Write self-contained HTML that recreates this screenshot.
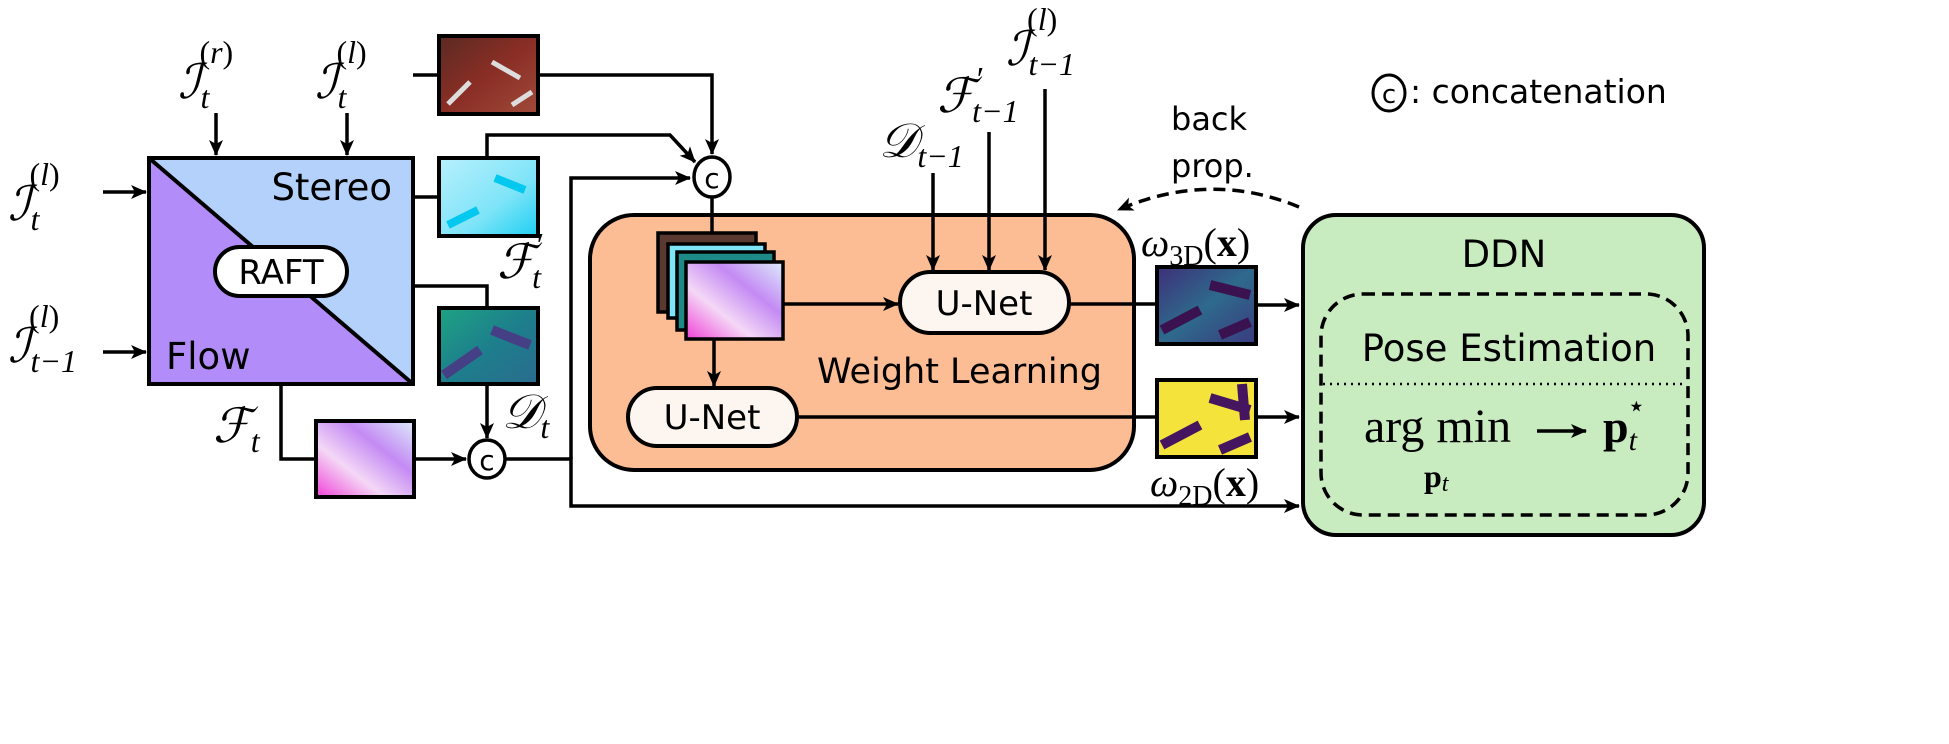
<!DOCTYPE html>
<html><head><meta charset="utf-8"><style>
html,body{margin:0;padding:0;background:#fff}
svg{display:block}
.s{font-family:"DejaVu Sans","Liberation Sans",sans-serif}
.m{font-family:"Liberation Serif","DejaVu Serif",serif;font-style:italic}
.r{font-family:"Liberation Serif","DejaVu Serif",serif}
</style></head><body>
<svg width="1949" height="744" viewBox="0 0 1949 744" xmlns="http://www.w3.org/2000/svg">
<defs>
<marker id="a" viewBox="0 0 16 14" refX="15" refY="7" markerWidth="16" markerHeight="14" markerUnits="userSpaceOnUse" orient="auto"><path d="M0,0 L16,7 L0,14 L4,7 Z" fill="#000"/></marker>
<linearGradient id="gRGB" x1="0" y1="0" x2="1" y2="1"><stop offset="0" stop-color="#5a2a22"/><stop offset="0.5" stop-color="#8a2e25"/><stop offset="1" stop-color="#a04a3a"/></linearGradient>
<linearGradient id="gCy" x1="0" y1="0" x2="1" y2="1"><stop offset="0" stop-color="#b8f0fd"/><stop offset="0.6" stop-color="#7ee4f8"/><stop offset="1" stop-color="#1ccff2"/></linearGradient>
<linearGradient id="gD" x1="0" y1="0" x2="1" y2="1"><stop offset="0" stop-color="#1ea383"/><stop offset="0.5" stop-color="#1d7f8c"/><stop offset="1" stop-color="#2a6b8e"/></linearGradient>
<linearGradient id="gF" x1="0" y1="1" x2="1" y2="0"><stop offset="0" stop-color="#f040d8"/><stop offset="0.35" stop-color="#f4d8f6"/><stop offset="0.65" stop-color="#c48af4"/><stop offset="1" stop-color="#dcecfb"/></linearGradient>
<linearGradient id="g3" x1="0" y1="0" x2="1" y2="1"><stop offset="0" stop-color="#3e2f78"/><stop offset="0.5" stop-color="#2e6a8c"/><stop offset="1" stop-color="#3a3a80"/></linearGradient>
</defs>

<polygon points="149,158 413,158 413,384" fill="#b3d1fb"/>
<polygon points="149,158 413,384 149,384" fill="#b28dfa"/>
<line x1="149" y1="158" x2="413" y2="384" stroke="#000" stroke-width="4"/>
<rect x="149" y="158" width="264" height="226" fill="none" stroke="#000" stroke-width="4"/>
<text x="392" y="200" class="s" font-size="37" text-anchor="end">Stereo</text>
<text x="166" y="369" class="s" font-size="37">Flow</text>
<rect x="215" y="247" width="132" height="49" rx="24.5" fill="#fff" stroke="#000" stroke-width="4"/>
<text x="281" y="284" class="s" font-size="34" text-anchor="middle">RAFT</text>

<text x="178" y="98" class="m" font-size="48">ℐ<tspan font-size="32" dy="10">t</tspan><tspan font-size="32" dx="-10" dy="-45" class="r" font-style="normal">(<tspan class="m">r</tspan>)</tspan></text>
<text x="315" y="98" class="m" font-size="48">ℐ<tspan font-size="32" dy="10">t</tspan><tspan font-size="32" dx="-10" dy="-45" class="r" font-style="normal">(<tspan class="m">l</tspan>)</tspan></text>
<text x="8" y="220" class="m" font-size="48">ℐ<tspan font-size="32" dy="10">t</tspan><tspan font-size="32" dx="-10" dy="-45" class="r" font-style="normal">(<tspan class="m">l</tspan>)</tspan></text>
<text x="8" y="362" class="m" font-size="48">ℐ<tspan font-size="32" dy="10">t−1</tspan><tspan font-size="32" dx="-48" dy="-45" class="r" font-style="normal">(<tspan class="m">l</tspan>)</tspan></text>
<line x1="216" y1="113" x2="216" y2="155" stroke="#000" stroke-width="3.5" marker-end="url(#a)"/>
<line x1="347" y1="113" x2="347" y2="155" stroke="#000" stroke-width="3.5" marker-end="url(#a)"/>
<line x1="103" y1="192" x2="146" y2="192" stroke="#000" stroke-width="3.5" marker-end="url(#a)"/>
<line x1="103" y1="352" x2="146" y2="352" stroke="#000" stroke-width="3.5" marker-end="url(#a)"/>

<rect x="439" y="36" width="99" height="78" fill="url(#gRGB)" stroke="#000" stroke-width="4"/>
<path d="M448,104 L470,82 M492,62 L520,78 M512,105 L532,92" stroke="#ddd" stroke-width="5"/>
<rect x="439" y="158" width="99" height="78" fill="url(#gCy)" stroke="#000" stroke-width="4"/>
<path d="M448,225 L478,210 M495,178 L525,190" stroke="#00c8ee" stroke-width="8"/>
<rect x="439" y="308" width="99" height="76" fill="url(#gD)" stroke="#000" stroke-width="4"/>
<path d="M444,375 L480,350 M492,330 L530,345" stroke="#453f86" stroke-width="10"/>
<rect x="316" y="421" width="98" height="76" fill="url(#gF)" stroke="#000" stroke-width="4"/>

<polyline points="413,75 439,75" fill="none" stroke="#000" stroke-width="3.5"/>
<polyline points="538,75 712,75 712,154" fill="none" stroke="#000" stroke-width="3.5" marker-end="url(#a)"/>
<polyline points="413,197 439,197" fill="none" stroke="#000" stroke-width="3.5"/>
<polyline points="487,158 487,135 670,135 695,162" fill="none" stroke="#000" stroke-width="3.5" marker-end="url(#a)"/>
<polyline points="413,286 487,286 487,308" fill="none" stroke="#000" stroke-width="3.5"/>
<polyline points="571,459 571,178 690,178" fill="none" stroke="#000" stroke-width="3.5" marker-end="url(#a)"/>
<polyline points="281,384 281,459 316,459" fill="none" stroke="#000" stroke-width="3.5"/>
<line x1="414" y1="459" x2="466" y2="459" stroke="#000" stroke-width="3.5" marker-end="url(#a)"/>
<line x1="487" y1="384" x2="487" y2="438" stroke="#000" stroke-width="3.5" marker-end="url(#a)"/>
<polyline points="506,459 571,459 571,506 1299,506" fill="none" stroke="#000" stroke-width="3.5" marker-end="url(#a)"/>
<ellipse cx="487" cy="459" rx="18" ry="19" fill="#fff" stroke="#000" stroke-width="3.5"/>
<text x="487" y="470" class="s" font-size="28" text-anchor="middle">c</text>

<text x="497" y="278" class="m" font-size="48">ℱ<tspan font-size="34" class="r" font-style="normal" dx="2" dy="-22">′</tspan><tspan font-size="32" dx="-12" dy="32">t</tspan></text>
<text x="502" y="428" class="m" font-size="48">𝒟<tspan font-size="32" dy="10">t</tspan></text>
<text x="213" y="442" class="m" font-size="48">ℱ<tspan font-size="32" dy="10">t</tspan></text>

<rect x="590" y="215" width="544" height="255" rx="44" fill="#fcbc94" stroke="#000" stroke-width="4"/>
<line x1="712" y1="197" x2="712" y2="235" stroke="#000" stroke-width="3.5"/>
<ellipse cx="712" cy="177" rx="18" ry="20" fill="#fff" stroke="#000" stroke-width="3.5"/>
<text x="712" y="188" class="s" font-size="28" text-anchor="middle">c</text>
<rect x="658" y="233" width="98" height="79" fill="#5a3a30" stroke="#000" stroke-width="3.5"/>
<rect x="668" y="244" width="97" height="74" fill="#7ee4f8" stroke="#000" stroke-width="3.5"/>
<rect x="677" y="252" width="97" height="78" fill="#1d8a88" stroke="#000" stroke-width="3.5"/>
<rect x="686" y="262" width="97" height="77" fill="url(#gF)" stroke="#000" stroke-width="3.5"/>
<line x1="783" y1="304" x2="898" y2="304" stroke="#000" stroke-width="3.5" marker-end="url(#a)"/>
<line x1="714" y1="339" x2="714" y2="386" stroke="#000" stroke-width="3.5" marker-end="url(#a)"/>
<rect x="900" y="272" width="169" height="61" rx="30.5" fill="#fdf5ef" stroke="#000" stroke-width="4"/>
<text x="984" y="315" class="s" font-size="34" text-anchor="middle">U-Net</text>
<rect x="628" y="388" width="169" height="58" rx="29" fill="#fdf5ef" stroke="#000" stroke-width="4"/>
<text x="712" y="429" class="s" font-size="34" text-anchor="middle">U-Net</text>
<text x="817" y="383" class="s" font-size="35">Weight Learning</text>

<line x1="933" y1="173" x2="933" y2="270" stroke="#000" stroke-width="3.5" marker-end="url(#a)"/>
<line x1="989" y1="132" x2="989" y2="270" stroke="#000" stroke-width="3.5" marker-end="url(#a)"/>
<line x1="1045" y1="89" x2="1045" y2="270" stroke="#000" stroke-width="3.5" marker-end="url(#a)"/>
<text x="879" y="157" class="m" font-size="48">𝒟<tspan font-size="32" dy="10">t−1</tspan></text>
<text x="937" y="112" class="m" font-size="48">ℱ<tspan font-size="34" class="r" font-style="normal" dx="2" dy="-22">′</tspan><tspan font-size="32" dx="-12" dy="32">t−1</tspan></text>
<text x="1006" y="65" class="m" font-size="48">ℐ<tspan font-size="32" dy="10">t−1</tspan><tspan font-size="32" dx="-48" dy="-45" class="r" font-style="normal">(<tspan class="m">l</tspan>)</tspan></text>

<text x="1171" y="130" class="s" font-size="32">back</text>
<text x="1171" y="177" class="s" font-size="32">prop.</text>
<path d="M1299,207 Q1210,170 1118,210" fill="none" stroke="#000" stroke-width="3.5" stroke-dasharray="12,7" marker-end="url(#a)"/>

<line x1="1069" y1="304" x2="1157" y2="304" stroke="#000" stroke-width="3.5"/>
<line x1="797" y1="417" x2="1157" y2="417" stroke="#000" stroke-width="3.5"/>
<rect x="1157" y="267" width="99" height="77" fill="url(#g3)" stroke="#000" stroke-width="4"/>
<path d="M1162,330 L1200,310 M1210,285 L1250,295 M1220,335 L1250,322" stroke="#3b1250" stroke-width="10"/>
<rect x="1157" y="380" width="99" height="77" fill="#f4e33a" stroke="#000" stroke-width="4"/>
<path d="M1162,445 L1200,425 M1210,398 L1250,410 M1220,450 L1250,437 M1242,384 L1245,420" stroke="#451560" stroke-width="10"/>
<line x1="1256" y1="305" x2="1299" y2="305" stroke="#000" stroke-width="3.5" marker-end="url(#a)"/>
<line x1="1256" y1="417" x2="1299" y2="417" stroke="#000" stroke-width="3.5" marker-end="url(#a)"/>
<text x="1141" y="256" class="m" font-size="40">ω<tspan font-size="28" class="r" font-style="normal" dy="9">3D</tspan><tspan class="r" font-style="normal" dy="-9">(<tspan font-weight="bold">x</tspan>)</tspan></text>
<text x="1150" y="496" class="m" font-size="40">ω<tspan font-size="28" class="r" font-style="normal" dy="9">2D</tspan><tspan class="r" font-style="normal" dy="-9">(<tspan font-weight="bold">x</tspan>)</tspan></text>

<rect x="1303" y="215" width="401" height="320" rx="33" fill="#c8ebc0" stroke="#000" stroke-width="4"/>
<text x="1504" y="267" class="s" font-size="37" text-anchor="middle">DDN</text>
<rect x="1321" y="294" width="367" height="221" rx="42" fill="none" stroke="#000" stroke-width="3.5" stroke-dasharray="12,7"/>
<text x="1509" y="361" class="s" font-size="37" text-anchor="middle">Pose Estimation</text>
<line x1="1323" y1="384" x2="1686" y2="384" stroke="#000" stroke-width="2.5" stroke-dasharray="2,5"/>
<text x="1364" y="442" class="r" font-size="48">arg min</text>
<line x1="1537" y1="431" x2="1586" y2="431" stroke="#000" stroke-width="3.5" marker-end="url(#a)"/>
<text x="1603" y="442" class="r" font-size="46" font-weight="bold">p<tspan font-size="30" font-weight="normal" font-style="italic" dy="8">t</tspan><tspan font-size="30" font-weight="normal" dx="-10" dy="-34">⋆</tspan></text>
<text x="1424" y="487" class="r" font-size="32" font-weight="bold">p<tspan font-size="24" font-weight="normal" font-style="italic" dy="4">t</tspan></text>

<ellipse cx="1389" cy="93" rx="16" ry="18" fill="none" stroke="#000" stroke-width="3"/>
<text x="1389" y="103" class="s" font-size="26" text-anchor="middle">c</text>
<text x="1410" y="103" class="s" font-size="33">: concatenation</text>
</svg>
</body></html>
